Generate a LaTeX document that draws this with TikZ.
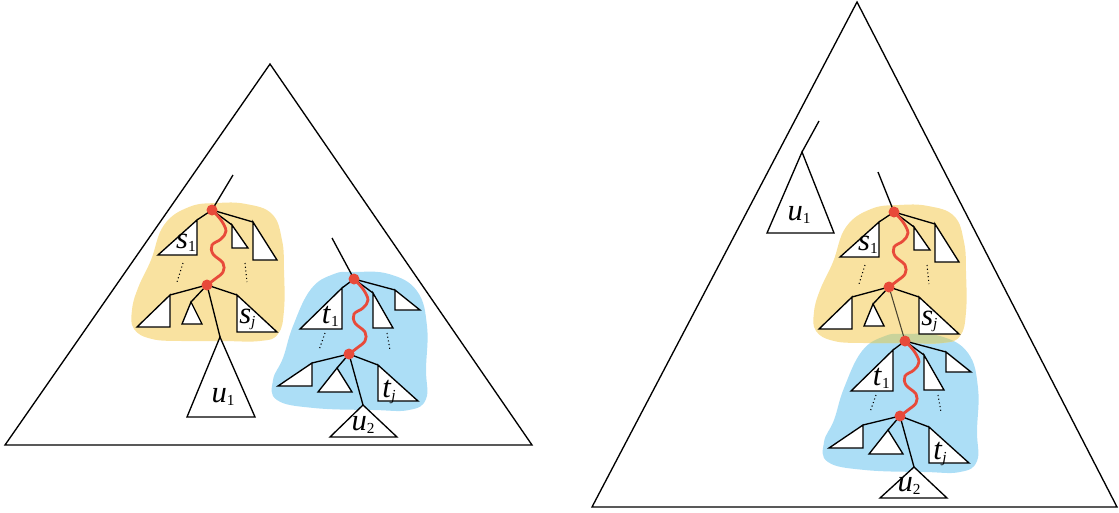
\documentclass[tikz,border=0pt]{standalone}
\usepackage{fontspec}
\setmainfont{Liberation Serif}
\definecolor{yel}{HTML}{F9E2A0}
\definecolor{blu}{HTML}{ACDEF6}
\definecolor{ovl}{HTML}{C9D39B}
\definecolor{dotred}{HTML}{E84A3A}
\newcommand{\lbl}[2]{\textit{#1}\raisebox{-0.12em}{\fontsize{11.5}{11.5}\selectfont #2}}
\newcommand{\ybpath}{plot[smooth cycle,tension=0.7] coordinates {(5,-7) (34,-6) (60,4) (70,30) (72,60) (72,100) (66,124) (48,131) (10,131) (-30,131) (-60,129) (-78,119) (-80,100) (-74,78) (-61,50) (-48,15) (-23,-3)}}
\newcommand{\bbpath}{plot[smooth cycle,tension=0.7] coordinates {(0,-7) (35,-5) (63,12) (73,47) (72,90) (72,120) (55,131) (20,131) (-40,129) (-77,121) (-81,101) (-71,79) (-61,47) (-43,10) (-20,-5)}}
\tikzset{
  edge/.style={line width=1pt},
  tri/.style={draw, fill=white, line width=1pt, line join=miter},
  bigtri/.style={draw, line width=1pt, line join=miter},
  wave/.style={dotred, line width=2.1pt, line cap=round},
  rdot/.style={fill=dotred},
  dotln/.style={dotted, line width=0.8pt},
  lab/.style={font=\fontsize{23}{23}\selectfont, inner sep=0pt},
  ytree/.pic={
    \draw[edge] (0,0) -- (-15,10) (0,0) -- (20,15) (0,0) -- (41,12);
    \draw[tri] (-15,10) -- (-15,45) -- (-54,45) -- cycle;
    \draw[tri] (20,15) -- (20,38) -- (36,38) -- cycle;
    \draw[tri] (41,12) -- (41,50) -- (65,50) -- cycle;
    \draw[dotln] (-29,53) -- (-35,72) (33,53) -- (35,72);
    \draw[edge] (-5,75) -- (-42,85) (-5,75) -- (-21,92) (-5,75) -- (25,85);
    \draw[tri] (-42,85) -- (-42,117) -- (-75,117) -- cycle;
    \draw[tri] (-21,92) -- (-30,114) -- (-10,114) -- cycle;
    \draw[tri] (25,85) -- (25,122) -- (65,122) -- cycle;
    \node[lab, anchor=base east] at (-16,38) {\lbl{s}{1}};
    \node[lab, anchor=base west] at (27,113) {\lbl{s}{\textit{j}}};
    \draw[wave] plot[smooth,tension=0.6] coordinates {(0,0) (9,10) (14,21) (9,29) (0,35) (1,44) (11,53) (11,62) (3,69) (-5,75)};
    \fill[rdot] (0,0) circle[radius=5.5];
    \fill[rdot] (-5,75) circle[radius=5.5];
  },
  btree/.pic={
    \draw[edge] (0,0) -- (-12,9) (0,0) -- (19,14) (0,0) -- (41,11);
    \draw[tri] (-12,9) -- (-12,50) -- (-54,50) -- cycle;
    \draw[tri] (19,14) -- (19,49) -- (39,49) -- cycle;
    \draw[tri] (41,11) -- (41,31) -- (66,31) -- cycle;
    \draw[dotln] (-29,54) -- (-35,71) (33,54) -- (36,71);
    \draw[edge] (-5,75) -- (-42,84) (-5,75) -- (-17,89) (-5,75) -- (24,86);
    \draw[tri] (-42,84) -- (-42,107) -- (-76,107) -- cycle;
    \draw[tri] (-17,89) -- (-36,113) -- (-2,113) -- cycle;
    \draw[tri] (24,86) -- (24,122) -- (64,122) -- cycle;
    \node[lab, anchor=base east] at (-15,44) {\lbl{t}{1}};
    \node[lab, anchor=base west] at (28,118) {\lbl{t}{\textit{j}}};
    \draw[wave] plot[smooth,tension=0.6] coordinates {(0,0) (9,10) (14,21) (9,29) (0,35) (1,44) (11,53) (11,62) (3,69) (-5,75)};
    \fill[rdot] (0,0) circle[radius=5.5];
    \fill[rdot] (-5,75) circle[radius=5.5];
  }
}
\begin{document}
\begin{tikzpicture}[x=0.75pt,y=-0.75pt]
\useasboundingbox (0,0) rectangle (1119,512);
% big triangles
\draw[bigtri] (270,64) -- (5,445) -- (532,445) -- cycle;
\draw[bigtri] (857,2) -- (592,507) -- (1117,507) -- cycle;
% key points
\coordinate (YT1) at (212,210);
\coordinate (YL1) at (207,285);
\coordinate (BT1) at (354,279);
\coordinate (BL1) at (349,354);
\coordinate (YT2) at (894,212);
\coordinate (YL2) at (889,287);
\coordinate (BT2) at (905,341);
\coordinate (BL2) at (900,416);
\coordinate (ys1) at (233,175);
\coordinate (bs1) at (332,238);
\coordinate (ys2) at (878,172);
\coordinate (us2) at (819,121);
% blobs
\fill[yel, shift={(YT1)}] \ybpath;
\fill[blu, shift={(BT1)}] \bbpath;
\fill[blu, shift={(BT2)}] \bbpath;
\fill[yel, shift={(YT2)}] \ybpath;
\begin{scope}[shift={(BT2)}]
  \clip \bbpath;
  \fill[ovl, shift={(-11,-129)}] \ybpath;
\end{scope}
% u triangles
\node[inner sep=0pt] (u1a) at (220,337) {};
\node[inner sep=0pt] (u2a) at (363,405) {};
\node[inner sep=0pt] (u1b) at (802,152) {};
\node[inner sep=0pt] (u2b) at (914,467) {};
\draw[tri] (u1a.center) -- (187,417) -- (255,417) -- cycle;
\draw[tri] (u2a.center) -- (330,437) -- (397,437) -- cycle;
\draw[tri] (u1b.center) -- (767,233) -- (834,233) -- cycle;
\draw[tri] (u2b.center) -- (880,498) -- (947,498) -- cycle;
\node[lab, anchor=base] at (223,402) {\lbl{u}{1}};
\node[lab, anchor=base] at (363,430) {\lbl{u}{2}};
\node[lab, anchor=base] at (799,220) {\lbl{u}{1}};
\node[lab, anchor=base] at (909,491) {\lbl{u}{2}};
% connectors
\draw[edge] (ys1) -- (YT1);
\draw[edge] (YL1) -- (u1a.center);
\draw[edge] (bs1) -- (BT1);
\draw[edge] (BL1) -- (u2a.center);
\draw[edge] (us2) -- (u1b.center);
\draw[edge] (ys2) -- (YT2);
\draw[line width=0.8pt, black!70!yel] (YL2) -- (BT2);
\draw[edge] (BL2) -- (u2b.center);
% trees
\pic at (YT1) {ytree};
\pic at (BT1) {btree};
\pic at (YT2) {ytree};
\pic at (BT2) {btree};
\end{tikzpicture}
\end{document}
